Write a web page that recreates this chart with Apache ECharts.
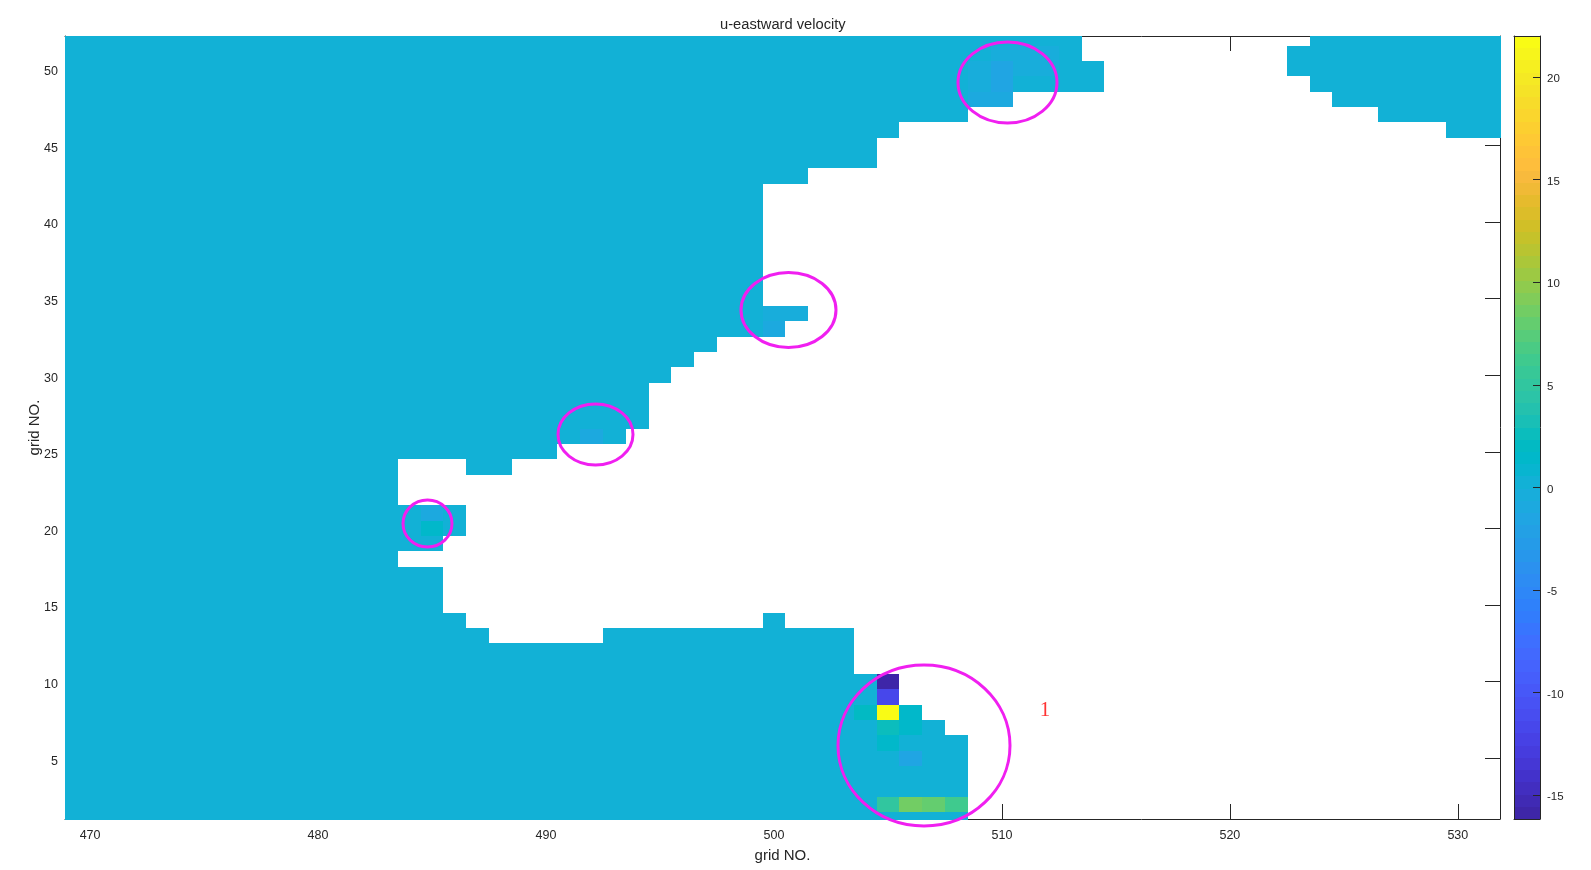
<!DOCTYPE html>
<html><head><meta charset="utf-8">
<style>html,body{margin:0;padding:0;background:#fff}#c{width:1591px;height:870px}</style>
<script src="https://cdn.jsdelivr.net/npm/echarts@6/dist/echarts.min.js"></script>
</head><body><div id="c"></div>
<script>
// Sea cells with the near-zero base value: [row, firstCol, lastCol]
var baseValue = 0.1;
var seaSpans = [
[52,469,513],[52,524,532],[51,469,513],[51,523,532],[50,469,514],[50,523,532],
[49,469,514],[49,524,532],[48,469,510],[48,525,532],[47,469,508],[47,527,532],
[46,469,505],[46,530,532],[45,469,504],[44,469,504],[43,469,501],[42,469,499],
[41,469,499],[40,469,499],[39,469,499],[38,469,499],[37,469,499],[36,469,499],
[35,469,499],[34,469,501],[33,469,500],[32,469,497],[31,469,496],[30,469,495],
[29,469,494],[28,469,494],[27,469,494],[26,469,493],[25,469,490],[24,469,483],
[24,487,488],[23,469,483],[22,469,483],[21,469,486],[20,469,486],[19,469,485],
[18,469,483],[17,469,485],[16,469,485],[15,469,485],[14,469,486],[14,500,500],
[13,469,487],[13,493,503],[12,469,503],[11,469,503],[10,469,505],[9,469,505],
[8,469,506],[7,469,507],[6,469,508],[5,469,508],[4,469,508],[3,469,508],
[2,469,508],[1,469,508]
];
// Cells that differ from the base value: [col, row, value]
var anomalyCells = [
[505,10,-16],[505,9,-11.7],[504,8,2.0],[505,8,22],[506,8,1.6],
[505,7,2.6],[506,7,1.2],[505,6,1.6],[506,5,-1.4],
[505,2,5.0],[506,2,8.7],[507,2,8.0],[508,2,6.0],
[510,51,-0.5],[511,51,-0.5],[512,51,-0.5],
[509,50,-0.5],[510,50,-1.6],[511,50,-0.5],[512,50,-0.5],
[509,49,-0.5],[510,49,-1.5],
[509,48,-0.8],[510,48,-0.8],
[485,21,-1.2],[485,20,1.5],
[492,26,-1],
[500,34,-0.6],[501,34,-0.5],[500,33,-0.9]
];
var xTicks = [470,480,490,500,510,520,530];
var yTicks = [5,10,15,20,25,30,35,40,45,50];
var cbarTicks = [-15,-10,-5,0,5,10,15,20];
var xRange = [468.9,531.85];
var yRange = [1.035,52.13];
var cRange = [-16.16,22];
var parula = [[0.2422,0.1504,0.6603],[0.2504,0.1650,0.7076],[0.2578,0.1818,0.7511],[0.2647,0.1978,0.7952],[0.2706,0.2147,0.8364],[0.2751,0.2342,0.8710],[0.2783,0.2559,0.8991],[0.2803,0.2782,0.9221],[0.2813,0.3006,0.9414],[0.2810,0.3228,0.9579],[0.2795,0.3447,0.9717],[0.2760,0.3667,0.9829],[0.2699,0.3892,0.9906],[0.2602,0.4123,0.9952],[0.2440,0.4358,0.9988],[0.2206,0.4603,0.9973],[0.1963,0.4847,0.9892],[0.1834,0.5074,0.9798],[0.1786,0.5289,0.9682],[0.1764,0.5499,0.9520],[0.1687,0.5703,0.9359],[0.1540,0.5902,0.9218],[0.1460,0.6091,0.9079],[0.1380,0.6276,0.8973],[0.1248,0.6459,0.8883],[0.1113,0.6635,0.8763],[0.0952,0.6798,0.8598],[0.0689,0.6948,0.8394],[0.0297,0.7082,0.8163],[0.0036,0.7203,0.7917],[0.0067,0.7312,0.7660],[0.0433,0.7411,0.7394],[0.0964,0.7500,0.7120],[0.1408,0.7584,0.6842],[0.1717,0.7670,0.6554],[0.1938,0.7758,0.6251],[0.2161,0.7843,0.5923],[0.2470,0.7918,0.5567],[0.2906,0.7973,0.5188],[0.3406,0.8008,0.4789],[0.3909,0.8029,0.4354],[0.4456,0.8024,0.3909],[0.5044,0.7993,0.3480],[0.5616,0.7942,0.3045],[0.6174,0.7876,0.2612],[0.6720,0.7793,0.2227],[0.7242,0.7698,0.1910],[0.7738,0.7598,0.1646],[0.8203,0.7498,0.1535],[0.8634,0.7406,0.1596],[0.9035,0.7330,0.1774],[0.9393,0.7288,0.2100],[0.9728,0.7298,0.2394],[0.9956,0.7434,0.2371],[0.9970,0.7659,0.2199],[0.9952,0.7893,0.2028],[0.9892,0.8136,0.1885],[0.9786,0.8386,0.1766],[0.9676,0.8639,0.1643],[0.9610,0.8890,0.1537],[0.9597,0.9135,0.1423],[0.9628,0.9373,0.1265],[0.9691,0.9606,0.1064],[0.9769,0.9839,0.0805]];

function colorOf(v){
  var n = parula.length;
  var i = Math.floor((v-cRange[0])/(cRange[1]-cRange[0])*n);
  i = Math.max(0,Math.min(n-1,i));
  var c = parula[i];
  return 'rgb('+Math.round(c[0]*255)+','+Math.round(c[1]*255)+','+Math.round(c[2]*255)+')';
}
var cellData = [];
seaSpans.forEach(function(s){ cellData.push([s[1]-0.5,s[2]+0.5,s[0]-0.5,s[0]+0.5,baseValue]); });
anomalyCells.forEach(function(c){ cellData.push([c[0]-0.5,c[0]+0.5,c[1]-0.5,c[1]+0.5,c[2]]); });
var barData = parula.map(function(_,i){
  var h=(cRange[1]-cRange[0])/parula.length;
  return [0,1,cRange[0]+i*h,cRange[0]+(i+1)*h,cRange[0]+(i+0.5)*h];
});
// Cells cover the frame lines of the axes, as the image layer does in the original.
function cellRenderer(bleed){
  return function(params,api){
    var a=api.coord([api.value(0),api.value(2)]), b=api.coord([api.value(1),api.value(3)]);
    var g=params.coordSys;
    var l=Math.max(Math.round(a[0]),g.x), r=Math.min(Math.round(b[0]),g.x+g.width+bleed);
    var t=Math.max(Math.round(b[1]),g.y), d=Math.min(Math.round(a[1]),g.y+g.height+bleed);
    return {type:'rect',shape:{x:l,y:t,width:r-l,height:d-t},style:{fill:colorOf(api.value(4))}};
  };
}
var ink='#262626', font='"Liberation Sans",Arial,sans-serif';
function mainX(pos,show){return {type:'value',gridIndex:0,position:pos,min:xRange[0],max:xRange[1],splitLine:{show:false},
  axisLine:{show:true,onZero:false,lineStyle:{color:ink,width:1}},
  axisTick:{show:true,inside:true,length:15,customValues:xTicks,lineStyle:{color:ink,width:1}},
  axisLabel:{show:show,customValues:xTicks,color:ink,fontSize:12.5,fontFamily:font,margin:10},
  name:show?'grid NO.':'',nameLocation:'middle',nameGap:29,nameTextStyle:{color:ink,fontSize:15,fontFamily:font}};}
function mainY(pos,show){return {type:'value',gridIndex:0,position:pos,min:yRange[0],max:yRange[1],splitLine:{show:false},
  axisLine:{show:true,onZero:false,lineStyle:{color:ink,width:1}},
  axisTick:{show:true,inside:true,length:15,customValues:yTicks,lineStyle:{color:ink,width:1}},
  axisLabel:{show:show,customValues:yTicks,color:ink,fontSize:12.5,fontFamily:font,margin:7,verticalAlign:'top',lineHeight:6},
  name:show?'grid NO.':'',nameLocation:'middle',nameGap:23,nameMoveOverlap:false,nameTextStyle:{color:ink,fontSize:15,fontFamily:font}};}
function barX(pos){return {type:'value',gridIndex:1,position:pos,min:0,max:1,z:5,splitLine:{show:false},
  axisLine:{show:true,onZero:false,lineStyle:{color:ink,width:1}},axisTick:{show:false},axisLabel:{show:false}};}
function barY(pos,show){return {type:'value',gridIndex:1,position:pos,min:cRange[0],max:cRange[1],z:5,splitLine:{show:false},
  axisLine:{show:true,onZero:false,lineStyle:{color:ink,width:1}},
  axisTick:{show:show,inside:true,length:7,customValues:cbarTicks,lineStyle:{color:ink,width:1}},
  axisLabel:{show:show,customValues:cbarTicks,color:ink,fontSize:11.5,fontFamily:font,margin:7,verticalAlign:'top',lineHeight:4}};}
var ringColor='#f01ff0';
function ring(cx,cy,rx,ry){return {type:'ellipse',z:50,shape:{cx:cx,cy:cy,rx:rx,ry:ry},style:{fill:null,stroke:ringColor,lineWidth:3}};}
var option={
  animation:false,backgroundColor:'#fff',
  title:{text:'u-eastward velocity',left:715,top:12,textStyle:{color:ink,fontSize:14.7,fontWeight:'normal',fontFamily:font}},
  grid:[{left:65,top:36,width:1435,height:783},{left:1514,top:36,width:26,height:783}],
  xAxis:[mainX('bottom',true),mainX('top',false),barX('bottom'),barX('top')],
  yAxis:[mainY('left',true),mainY('right',false),barY('right',true),barY('left',false)],
  series:[
    {type:'custom',xAxisIndex:0,yAxisIndex:0,clip:false,z:2,silent:true,data:cellData,renderItem:cellRenderer(1),encode:{x:[0,1],y:[2,3]}},
    {type:'custom',xAxisIndex:2,yAxisIndex:2,clip:false,z:2,silent:true,data:barData,renderItem:cellRenderer(0),encode:{x:[0,1],y:[2,3]}}
  ],
  graphic:{elements:[
    ring(924,745.5,86,80.5),ring(1007.5,82.5,49.5,40.5),ring(427.5,523.5,24.5,23.5),ring(595.5,434.5,37.5,30.5),ring(788.5,310,47.5,37.5),
    {type:'text',z:50,x:1045,y:710,style:{text:'1',fill:'#f33',font:'21px "Liberation Serif",serif',textAlign:'center',textVerticalAlign:'middle'}}
  ]}
};
var chart=echarts.init(document.getElementById('c'),null,{width:1591,height:870});
chart.setOption(option);
</script></body></html>
